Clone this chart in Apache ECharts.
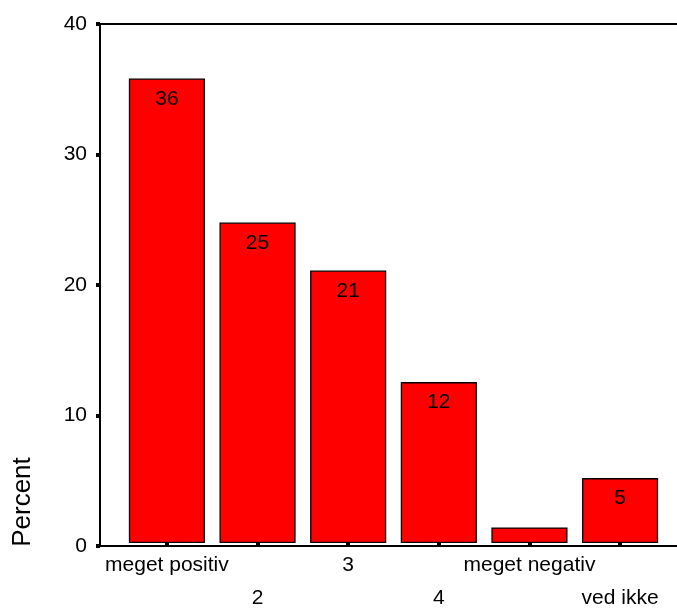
<!DOCTYPE html>
<html>
<head>
<meta charset="utf-8">
<script src="https://cdn.jsdelivr.net/npm/echarts@6/dist/echarts.min.js"></script>
<style>html,body{margin:0;padding:0;background:#fff}#c{width:677px;height:615px}</style>
</head>
<body>
<div id="c"></div>
<script>
const categories = ['meget positiv', '2', '3', '4', 'meget negativ', 'ved ikke'];
const percentValues = [35.8, 24.7, 21.0, 12.4, 1.2, 5.0];
const showLabel = [true, true, true, true, false, true];
const yTicks = { min: 0, max: 40, interval: 10 };
const yTitle = 'Percent';

const font = '"Liberation Sans", Arial, sans-serif';
const chart = echarts.init(document.getElementById('c'), null, { renderer: 'canvas' });

const lineStyle = { color: '#000', width: 2 };

chart.setOption({
  animation: false,
  backgroundColor: '#fff',
  grid: [
    { left: 121.6, right: 11.6, top: 24, bottom: 69, containLabel: false },
    { left: 100, right: 0, top: 24, bottom: 69, containLabel: false }
  ],
  xAxis: [
    {
      type: 'category', gridIndex: 0, data: categories,
      axisLine: { show: false },
      axisTick: { show: true, alignWithLabel: true, length: 4, inside: false, lineStyle: { color: '#000', width: 4 } },
      axisLabel: {
        interval: 0, margin: 6, color: '#000', fontFamily: font, fontSize: 21, lineHeight: 33,
        formatter: (v, i) => (i % 2 === 0 ? v : '\n' + v)
      },
      splitLine: { show: false }
    },
    {
      type: 'value', gridIndex: 1, min: 0, max: 1, position: 'bottom',
      axisLine: { show: true, lineStyle: lineStyle },
      axisTick: { show: false }, axisLabel: { show: false }, splitLine: { show: false }
    },
    {
      type: 'value', gridIndex: 1, min: 0, max: 1, position: 'top',
      axisLine: { show: true, lineStyle: lineStyle },
      axisTick: { show: false }, axisLabel: { show: false }, splitLine: { show: false }
    }
  ],
  yAxis: [
    {
      type: 'value', gridIndex: 0, min: yTicks.min, max: yTicks.max, interval: yTicks.interval,
      show: false
    },
    {
      type: 'value', gridIndex: 1, min: yTicks.min, max: yTicks.max, interval: yTicks.interval,
      position: 'left',
      axisLine: { show: true, lineStyle: lineStyle },
      axisTick: { show: true, length: 4, lineStyle: { color: '#000', width: 4 } },
      axisLabel: { margin: 13, color: '#000', fontFamily: font, fontSize: 21 },
      splitLine: { show: false },
      name: yTitle,
      nameLocation: 'middle',
      nameRotate: 90,
      nameGap: 64,
      nameTextStyle: { color: '#000', fontFamily: font, fontSize: 26, padding: [0, 434, 0, 0] }
    }
  ],
  series: [
    {
      type: 'bar', xAxisIndex: 0, yAxisIndex: 0,
      barCategoryGap: '16%',
      data: percentValues.map((v, i) => ({ value: v, label: { show: showLabel[i] } })),
      itemStyle: { color: '#ff0000', borderColor: '#000', borderWidth: 1.3 },
      label: {
        show: true, position: 'insideTop', distance: 10, color: '#000',
        fontFamily: font, fontSize: 21,
        formatter: p => String(Math.round(p.value))
      }
    }
  ]
});
</script>
</body>
</html>
